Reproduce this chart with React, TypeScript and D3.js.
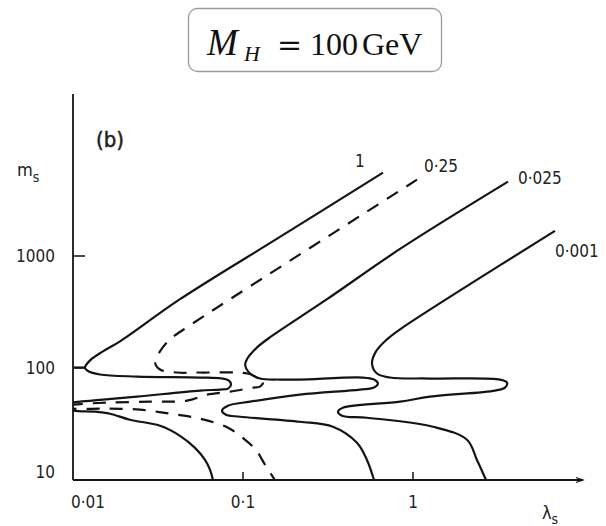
import React from "react";
import * as d3 from "d3";

// ---- data (λ_s, m_s) ----
const xTickValues = [0.01, 0.1, 1];
const xTickLabels = ["0·01", "0·1", "1"];
const yTickValues = [10, 100, 1000];
const yTickLabels = ["10", "100", "1000"];
const xDomain = [0.01, 10];
const yDomain = [10, 28000];

const curveNames = ["1", "0·25", "0·025", "0·001"];

const curve1: [number, number][] = [
  [0.666, 5553], [0.165, 1481], [0.0426, 411.5], [0.0189, 172.9], [0.015, 140.6],
  [0.0126, 117], [0.01176, 101], [0.01225, 94.0], [0.0144, 87.45], [0.0238, 83.92],
  [0.0559, 82.2], [0.0752, 80.52], [0.0827, 77.25], [0.085, 71.12], [0.0816, 65.48],
  [0.0732, 64.15], [0.0559, 62.83], [0.0238, 55.51], [0.015, 52.2], [0.011, 50.06],
  [0.01, 49.04], [0.00862, 45.16], [0.01, 41.57], [0.0135, 40.73], [0.0165, 39.08],
  [0.0216, 34.52], [0.0325, 30.5], [0.0426, 24.81], [0.0522, 19.36], [0.0598, 15.11],
  [0.064, 12.29], [0.0666, 10],
];
const curve1Stub: [number, number][] = [[0.01, 101], [0.01176, 101]];

const curve025: [number, number][] = [
  [1.056, 4804], [0.0839, 411.5], [0.0468, 230.8], [0.0372, 180.1], [0.0325, 140.6],
  [0.0304, 112.0], [0.0325, 96.94], [0.0409, 91.12], [0.0559, 91.12], [0.106, 89.27],
  [0.121, 82.2], [0.131, 74.13], [0.126, 68.25], [0.115, 66.86], [0.0839, 61.54],
  [0.0614, 57.85], [0.0468, 51.1], [0.0284, 50.06], [0.0158, 49.04], [0.01, 47.06],
  [0.00862, 45.16], [0.01, 43.34], [0.0154, 43.34], [0.0248, 42.45], [0.0372, 39.08],
  [0.0559, 35.25], [0.0816, 29.27], [0.103, 22.85], [0.119, 18.58], [0.135, 13.63],
  [0.154, 10],
];

const curve0025: [number, number][] = [
  [3.622, 4610], [0.839, 1156], [0.312, 411.5], [0.144, 187.7], [0.121, 152.8],
  [0.107, 124.2], [0.103, 107.5], [0.11, 89.27], [0.126, 80.52], [0.165, 78.85],
  [0.216, 78.85], [0.508, 82.2], [0.59, 78.85], [0.622, 72.61], [0.59, 66.86],
  [0.488, 64.15], [0.216, 57.85], [0.11, 50.06], [0.0816, 46.1], [0.0752, 41.57],
  [0.0794, 38.28], [0.096, 36.73], [0.216, 33.13], [0.338, 29.88], [0.468, 21.47],
  [0.536, 15.11], [0.59, 10],
];

const curve0001: [number, number][] = [
  [6.844, 1676], [0.839, 221.4], [0.703, 180.1], [0.606, 140.6], [0.574, 109.8],
  [0.614, 89.27], [0.732, 82.2], [1.259, 80.52], [3.25, 78.85], [3.573, 74.13],
  [3.477, 66.86], [3.037, 62.83], [1.259, 55.51], [0.839, 50.06], [0.387, 44.23],
  [0.362, 40.73], [0.382, 37.5], [0.536, 35.98], [1.311, 29.88], [2.078, 22.85],
  [2.379, 15.11], [2.689, 10],
];

const curves = [curve1, curve025, curve0025, curve0001];

// ---- styling ----
const NUM_FONT = "'Liberation Sans Narrow', 'DejaVu Sans Condensed', 'Liberation Sans', sans-serif";
const INK = "#141414";
const dashStyles = [null, "13 10", null, null];
const labelStyle = [
  { dx: -23, dy: -6, anchor: "middle" },
  { dx: 7, dy: -8, anchor: "start" },
  { dx: 10, dy: 2, anchor: "start" },
  { dx: 0, dy: 26, anchor: "start" },
];

export default function App() {
  const W = 606;
  const H = 526;
  const x = d3.scaleLog().domain(xDomain).range([73, 583]);
  const y = d3.scaleLog().domain([10, 1000]).range([480, 256]);
  const yTopPx = y(yDomain[1]);
  const x0 = x(xDomain[0]);
  const x1 = x(xDomain[1]);
  const y0 = y(yDomain[0]);

  const line = d3
    .line<[number, number]>()
    .x((d) => x(d[0]))
    .y((d) => y(d[1]))
    .curve(d3.curveCatmullRom.alpha(0.5));

  return (
    <svg
      width={W}
      height={H}
      viewBox={`0 0 ${W} ${H}`}
      style={{ position: "absolute", left: 0, top: 0, background: "#fff" }}
    >
      <defs>
        <clipPath id="plotClip">
          <rect x={x0} y={0} width={W - x0} height={y0 + 1} />
        </clipPath>
      </defs>
      <rect x={0} y={0} width={W} height={H} fill="#fff" />

      {/* title box */}
      <rect x={188.5} y={8.5} width={253} height={63} rx={9} ry={9} fill="#fff" stroke="#9a9a9a" strokeWidth={1.3} />
      <text fontFamily="'Liberation Serif', 'DejaVu Serif', serif" fontSize={32} fill="#111" y={55}>
        <tspan x={207} fontStyle="italic" fontSize={37}>M</tspan>
        <tspan x={244} dy={6} fontSize={22} fontStyle="italic">H</tspan>
        <tspan x={277} dy={-6} fontFamily="'DejaVu Serif', serif" fontSize={30}>=</tspan>
        <tspan x={310}>100</tspan>
        <tspan x={362}>GeV</tspan>
      </text>

      {/* axes */}
      <line x1={x0} y1={yTopPx} x2={x0} y2={y0} stroke={INK} strokeWidth={1.8} />
      <line x1={x0} y1={y0} x2={x1} y2={y0} stroke={INK} strokeWidth={1.8} />
      <path d={`M${x1 - 7},${y0 - 2.5} L${x1},${y0} L${x1 - 7},${y0 + 2.5}`} fill="none" stroke={INK} strokeWidth={1.2} />

      {xTickValues.map((v, i) => (
        <g key={"xt" + i}>
          {i > 0 && <line x1={x(v)} x2={x(v)} y1={y0} y2={y0 - 8} stroke={INK} strokeWidth={1.5} />}
          <text
            x={x(v) + (i === 0 ? 15 : 0)}
            y={508}
            textAnchor="middle"
            fontFamily={NUM_FONT}
            fontSize={17}
            fill="#222"
          >
            {xTickLabels[i]}
          </text>
        </g>
      ))}
      {yTickValues.map((v, i) => (
        <g key={"yt" + i}>
          {i > 0 && <line x1={x0} x2={x0 + 12} y1={y(v)} y2={y(v)} stroke={INK} strokeWidth={1.5} />}
          <text
            x={55}
            y={y(v) + (i === 0 ? -2 : 6)}
            textAnchor="end"
            fontFamily={NUM_FONT}
            fontSize={17}
            fill="#222"
          >
            {yTickLabels[i]}
          </text>
        </g>
      ))}

      {/* axis titles and panel tag */}
      <text x={17} y={176} fontFamily={NUM_FONT} fontSize={18} fill="#222">
        m<tspan fontSize={14} dy={6}>s</tspan>
      </text>
      <text x={542} y={519} fontFamily={NUM_FONT} fontSize={18} fill="#222">
        λ<tspan fontSize={14} dy={5}>s</tspan>
      </text>
      <text x={96} y={147} fontFamily={NUM_FONT} fontSize={22} fill="#222" stroke="#222" strokeWidth={0.5}>
        (b)
      </text>

      {/* contours */}
      <g clipPath="url(#plotClip)" fill="none" stroke={INK} strokeWidth={2.2} strokeLinejoin="round">
        <path d={line(curve1Stub) || ""} />
        {curves.map((c, i) => (
          <path
            key={"c" + i}
            d={line(c) || ""}
            strokeDasharray={dashStyles[i] || undefined}
          />
        ))}
      </g>

      {curves.map((c, i) => (
        <text
          key={"l" + i}
          x={x(c[0][0]) + labelStyle[i].dx}
          y={y(c[0][1]) + labelStyle[i].dy}
          textAnchor={labelStyle[i].anchor as any}
          fontFamily={NUM_FONT}
          fontSize={17}
          fill="#222"
        >
          {curveNames[i]}
        </text>
      ))}
    </svg>
  );
}
